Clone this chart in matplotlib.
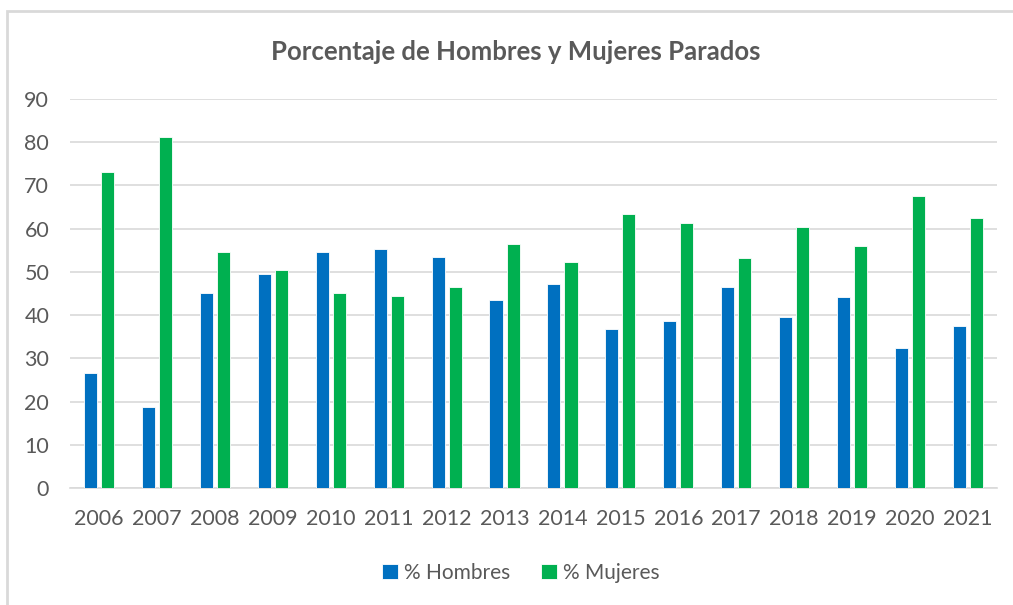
import numpy as np
import matplotlib.pyplot as plt
from matplotlib.patches import Rectangle

years = ["2006", "2007", "2008", "2009", "2010", "2011", "2012", "2013",
         "2014", "2015", "2016", "2017", "2018", "2019", "2020", "2021"]
hombres = [26.5, 18.8, 45.2, 49.4, 54.7, 55.3, 53.5, 43.4,
           47.3, 36.7, 38.7, 46.6, 39.5, 44.1, 32.4, 37.5]
mujeres = [73.1, 81.1, 54.7, 50.5, 45.2, 44.5, 46.4, 56.5,
           52.3, 63.3, 61.2, 53.2, 60.3, 55.9, 67.5, 62.4]
yticks = [0, 10, 20, 30, 40, 50, 60, 70, 80, 90]

BLUE = "#0070C0"
GREEN = "#00B050"
TEXT = "#595959"

plt.rcParams["font.family"] = ["Lato", "DejaVu Sans"]

fig = plt.figure(figsize=(10.13, 6.05), dpi=100)
W, H = 1013, 605

# outer chart frame (only left and top edges visible)
fig.patches.append(Rectangle((7 / W, -0.1), 1.2, (H - 11) / H + 0.1,
                             transform=fig.transFigure, fill=False,
                             edgecolor="#D9D9D9", linewidth=2))

ax = fig.add_axes([70 / W, (H - 488) / H, (997 - 70) / W, (488 - 99) / H])

x = np.arange(len(years))
bw = 0.225
off = 0.147
ax.bar(x - off, hombres, bw, color=BLUE, edgecolor="white", linewidth=0.6,
       label="% Hombres", zorder=3)
ax.bar(x + off, mujeres, bw, color=GREEN, edgecolor="white", linewidth=0.6,
       label="% Mujeres", zorder=3)

ax.set_xlim(-0.5, len(years) - 0.5)
ax.set_ylim(0, 90)
ax.set_yticks(yticks)
ax.set_xticks(x)
ax.set_xticklabels(years)
ax.grid(axis="y", color="#D9D9D9", linewidth=1.2, zorder=0)
for s in ["top", "right", "left"]:
    ax.spines[s].set_visible(False)
ax.spines["bottom"].set_color("#D9D9D9")
ax.spines["bottom"].set_linewidth(1.2)
ax.tick_params(axis="both", length=0, colors=TEXT, labelsize=15.5)
ax.tick_params(axis="y", pad=15)
ax.tick_params(axis="x", pad=15)

fig.text(516 / W, 1 - 52 / H, "Porcentaje de Hombres y Mujeres Parados",
         ha="center", va="center", fontsize=18.5, fontweight="bold", color=TEXT)

fig.legend(loc="center", bbox_to_anchor=(521 / W, 1 - 573 / H), ncol=2,
           frameon=False, fontsize=15, labelcolor=TEXT, handlelength=0.75,
           handleheight=0.75, handletextpad=0.3, columnspacing=1.5)

fig.savefig("out.png", dpi=100)
